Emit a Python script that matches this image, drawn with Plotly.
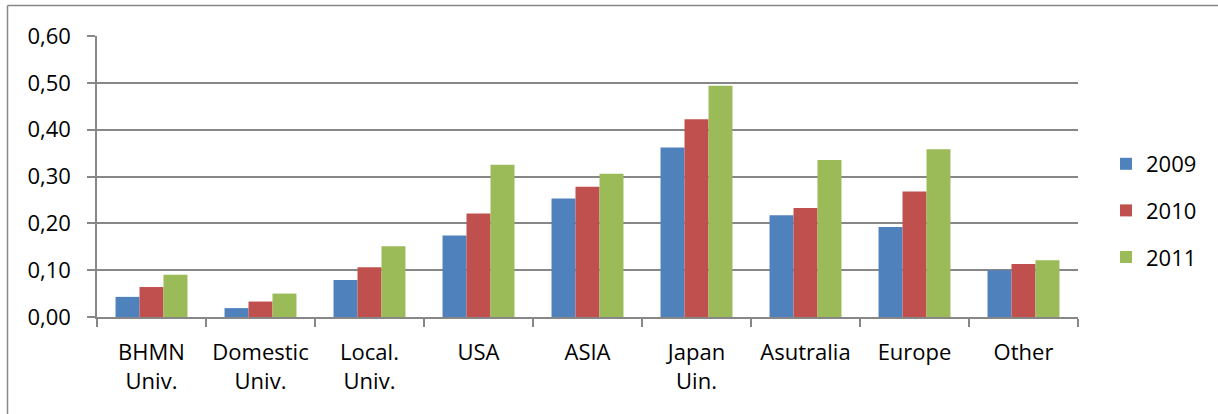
import plotly.graph_objects as go

categories = ["BHMN<br>Univ.", "Domestic<br>Univ.", "Local.<br>Univ.", "USA", "ASIA",
              "Japan<br>Uin.", "Asutralia", "Europe", "Other"]
years = ["2009", "2010", "2011"]
values_2009 = [0.043, 0.019, 0.079, 0.174, 0.253, 0.362, 0.217, 0.192, 0.100]
values_2010 = [0.064, 0.033, 0.106, 0.221, 0.278, 0.422, 0.233, 0.268, 0.113]
values_2011 = [0.090, 0.050, 0.151, 0.325, 0.306, 0.494, 0.335, 0.358, 0.121]
colors = ["#4F81BD", "#C0504D", "#9BBB59"]

W, H = 1218, 414
L, R, T, B = 97, 140, 36, 97
FONT = "Open Sans"
GRID = "#878787"

fig = go.Figure()
for year, vals, color in zip(years, [values_2009, values_2010, values_2011], colors):
    fig.add_trace(go.Bar(x=categories, y=vals, name=year, legendgroup=year,
                         marker=dict(color=color, line=dict(width=0))))

pw = W - L - R
ph = H - T - B


def px_x(p):
    return (p - L) / pw


def px_y(p):
    return (H - B - p) / ph


# outer chart frame (left and top edges)
fig.add_shape(type="line", xref="paper", yref="paper",
              x0=px_x(7.5), x1=px_x(W), y0=px_y(5.5), y1=px_y(5.5),
              line=dict(color=GRID, width=1.5))
fig.add_shape(type="line", xref="paper", yref="paper",
              x0=px_x(7.5), x1=px_x(7.5), y0=px_y(5.5), y1=px_y(H),
              line=dict(color=GRID, width=1.5))

fig.update_layout(
    width=W, height=H,
    margin=dict(l=L, r=R, t=T, b=B, autoexpand=False),
    paper_bgcolor="white", plot_bgcolor="white",
    separators=", ",
    barmode="group", bargap=0.34, bargroupgap=0,
    font=dict(family=FONT, size=22, color="black"),
    legend=dict(x=px_x(1106), y=px_y(143), xanchor="left", yanchor="top",
                font=dict(size=22), tracegroupgap=15, itemwidth=30),
    showlegend=True,
)
fig.update_xaxes(
    automargin=False, tickangle=0,
    showline=True, linecolor=GRID, linewidth=1.5,
    ticks="outside", tickson="boundaries", ticklen=8, tickcolor=GRID, tickwidth=1.5,
    showgrid=False, ticklabelstandoff=15,
)
fig.update_yaxes(
    automargin=False,
    range=[0, 0.6], dtick=0.1, tickformat=".2f",
    showline=True, linecolor=GRID, linewidth=1.5,
    ticks="outside", ticklen=8, tickcolor=GRID, tickwidth=1.5,
    showgrid=True, gridcolor=GRID, gridwidth=1.5,
    zeroline=False, ticklabelstandoff=12,
)

fig.write_html("out.html", config={"displayModeBar": False},
               post_script="document.body.style.margin='0px';")
